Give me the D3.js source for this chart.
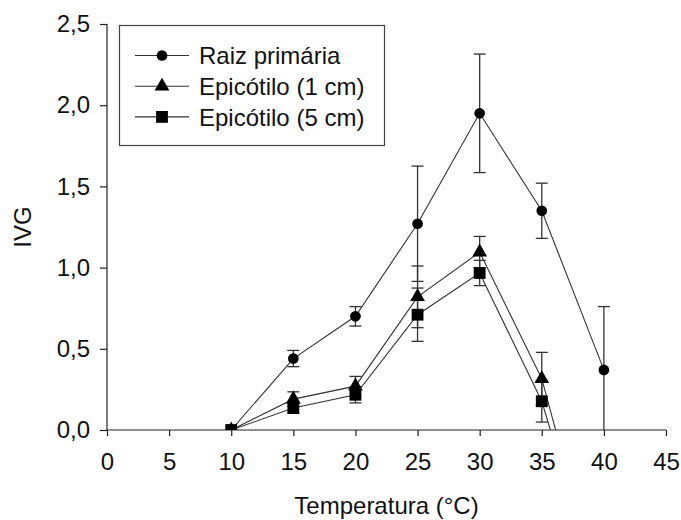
<!DOCTYPE html>
<html>
<head>
<meta charset="utf-8">
<script src="https://cdn.jsdelivr.net/npm/d3@7"></script>
<style>
  body { margin: 0; background: #fff; }
  svg { display: block; }
  text { font-family: "Liberation Sans", Arial, sans-serif; fill: #111; }
</style>
</head>
<body>
<div id="chart"></div>
<script>
// Germination speed index (IVG) by temperature
const temperatures = [10, 15, 20, 25, 30, 35, 40];

const raizValues = [0, 0.44, 0.70, 1.27, 1.95, 1.35, 0.37];
const raizErrors = [0, 0.05, 0.06, 0.355, 0.365, 0.17, 0.39];

const epi1Values = [0, 0.19, 0.27, 0.82, 1.095, 0.316, -1.1];
const epi1Errors = [0, 0.045, 0.06, 0.19, 0.097, 0.162, 0];

const epi5Values = [0, 0.135, 0.217, 0.71, 0.967, 0.177, -1.1];
const epi5Errors = [0, 0.03, 0.05, 0.164, 0.078, 0.128, 0];

const seriesNames = ["Raiz primária", "Epicótilo (1 cm)", "Epicótilo (5 cm)"];
const xTicks = [0, 5, 10, 15, 20, 25, 30, 35, 40, 45];
const yTicks = [0, 0.5, 1.0, 1.5, 2.0, 2.5];
const xTitle = "Temperatura (°C)";
const yTitle = "IVG";

const W = 681, H = 520;
const margin = { left: 107, right: 15, top: 24, bottom: 90 };
const fontSize = 24;

const svg = d3.select("#chart").append("svg")
  .attr("width", W).attr("height", H);

const x = d3.scaleLinear().domain([0, 45]).range([margin.left, W - margin.right]);
const y = d3.scaleLinear().domain([0, 2.5]).range([H - margin.bottom, margin.top]);

const fmt = d => d3.format(".1f")(d).replace(".", ",");

// clip region = plotting area
svg.append("defs").append("clipPath").attr("id", "plot-clip")
  .append("rect")
  .attr("x", x(0)).attr("y", y(2.5))
  .attr("width", x(45) - x(0)).attr("height", y(0) - y(2.5));

// axes
const xAxis = svg.append("g")
  .attr("transform", `translate(0,${y(0)})`)
  .call(d3.axisBottom(x).tickValues(xTicks).tickSize(6).tickPadding(17).tickFormat(d3.format("d")));
const yAxis = svg.append("g")
  .attr("transform", `translate(${x(0)},0)`)
  .call(d3.axisLeft(y).tickValues(yTicks).tickSize(7).tickPadding(10).tickFormat(fmt));

[xAxis, yAxis].forEach(g => {
  g.select(".domain").attr("stroke", "#222").attr("stroke-width", 1.2);
  g.selectAll(".tick line").attr("stroke", "#222").attr("stroke-width", 1.2);
  g.selectAll(".tick text")
    .attr("font-family", "Liberation Sans, Arial, sans-serif")
    .attr("font-size", fontSize).attr("fill", "#111");
});
xAxis.select(".domain").attr("d", `M${x(0)},0H${x(45)}`);
yAxis.select(".domain").attr("d", `M0,${y(0)}V${y(2.5)}`);

// axis titles
svg.append("text")
  .attr("x", (x(0) + x(45)) / 2).attr("y", 514)
  .attr("text-anchor", "middle").attr("font-size", fontSize)
  .text(xTitle);
svg.append("text")
  .attr("transform", `translate(31,${(y(0) + y(2.5)) / 2}) rotate(-90)`)
  .attr("text-anchor", "middle").attr("font-size", fontSize)
  .text(yTitle);

// series
const series = [
  { name: seriesNames[0], values: raizValues, errors: raizErrors, symbol: d3.symbolCircle, size: 90 },
  { name: seriesNames[1], values: epi1Values, errors: epi1Errors, symbol: d3.symbolTriangle, size: 95 },
  { name: seriesNames[2], values: epi5Values, errors: epi5Errors, symbol: d3.symbolSquare, size: 140 }
].map(s => ({ ...s, points: temperatures.map((t, i) => ({ t, v: s.values[i], e: s.errors[i] })) }));

const plot = svg.append("g").attr("clip-path", "url(#plot-clip)");
const line = d3.line().x(d => x(d.t)).y(d => y(d.v));

// connecting lines
series.forEach(s => {
  plot.append("path").datum(s.points)
    .attr("d", line).attr("fill", "none")
    .attr("stroke", "#333").attr("stroke-width", 1.1);
});

// error bars and markers
const capHalf = 6;
series.forEach(s => {
  const eb = plot.append("g").attr("stroke", "#333").attr("stroke-width", 1.3);
  s.points.filter(d => d.e > 0).forEach(d => {
    const cx = x(d.t), top = y(d.v + d.e), bot = y(d.v - d.e);
    eb.append("line").attr("x1", cx).attr("x2", cx).attr("y1", top).attr("y2", bot);
    eb.append("line").attr("x1", cx - capHalf).attr("x2", cx + capHalf).attr("y1", top).attr("y2", top);
    eb.append("line").attr("x1", cx - capHalf).attr("x2", cx + capHalf).attr("y1", bot).attr("y2", bot);
  });
});
series.forEach(s => {
  plot.append("g").selectAll("path").data(s.points).join("path")
    .attr("transform", d => `translate(${x(d.t)},${y(d.v)})`)
    .attr("d", d3.symbol().type(s.symbol).size(s.size))
    .attr("fill", "#000");
});

// legend
const legend = svg.append("g");
legend.append("rect")
  .attr("x", 119.5).attr("y", 25.5).attr("width", 265).attr("height", 120)
  .attr("fill", "#fff").attr("stroke", "#444").attr("stroke-width", 1.2);
series.forEach((s, i) => {
  const ly = 55.5 + i * 30.7;
  legend.append("line").attr("x1", 135).attr("x2", 189).attr("y1", ly).attr("y2", ly)
    .attr("stroke", "#333").attr("stroke-width", 1.1);
  legend.append("path").attr("transform", `translate(162,${ly})`)
    .attr("d", d3.symbol().type(s.symbol).size(s.size)).attr("fill", "#000");
  legend.append("text").attr("x", 199).attr("y", ly).attr("dy", "0.36em")
    .attr("font-size", fontSize).text(s.name);
});
</script>
</body>
</html>
